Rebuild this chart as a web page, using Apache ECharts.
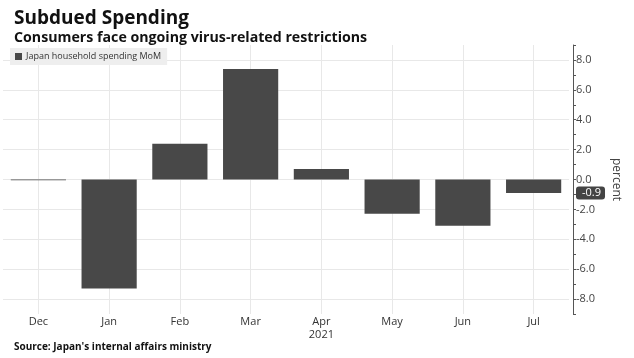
<!DOCTYPE html>
<html><head><meta charset="utf-8">
<script src="https://cdn.jsdelivr.net/npm/echarts@6/dist/echarts.min.js"></script>
<style>html,body{margin:0;padding:0;background:#fff}#c{width:634px;height:358px}</style>
</head><body><div id="c"></div>
<script>
const categories = ['Dec','Jan','Feb','Mar','Apr','May','Jun','Jul'];
const spending = [-0.05, -7.3, 2.4, 7.4, 0.7, -2.3, -3.1, -0.9];
const yearLabel = '2021';
const latestValue = -0.9;
const seriesName = 'Japan household spending MoM';
const gridValues = [-8, -6, -4, -2, 0, 2, 4, 6, 8];

const chart = echarts.init(document.getElementById('c'));
const F = '"Open Sans", "DejaVu Sans", sans-serif';
chart.setOption({
  animation: false,
  backgroundColor: '#fff',
  title: [
    {text: 'Subdued Spending', left: 9, top: 4, textStyle: {fontFamily: F, fontSize: 19, fontWeight: 'bold', color: '#111'}},
    {text: 'Consumers face ongoing virus-related restrictions', left: 9, top: 26, textStyle: {fontFamily: F, fontSize: 14.2, fontWeight: 'bold', color: '#111'}},
    {text: "Source: Japan's internal affairs ministry", left: 9, top: 337, textStyle: {fontFamily: F, fontSize: 10, fontWeight: 'bold', color: '#111'}}
  ],
  legend: {
    left: 10, top: 48, padding: [4, 6, 4, 5],
    backgroundColor: '#eeeeee',
    itemWidth: 7, itemHeight: 7, itemGap: 4,
    icon: 'rect',
    data: [seriesName],
    textStyle: {fontFamily: F, fontSize: 9, color: '#333', padding: [0,0,0,-1]}
  },
  grid: {left: 3, right: 65, top: 45, bottom: 44},
  xAxis: {
    type: 'category', data: categories,
    axisLine: {show: false}, axisTick: {show: false},
    splitLine: {show: true, alignWithLabel: true, lineStyle: {color: '#e8e8e8', width: 1}},
    axisLabel: {fontFamily: F, fontSize: 11, color: '#333', margin: 1, lineHeight: 13,
      formatter: v => v === 'Apr' ? v + '\n' + yearLabel : v}
  },
  yAxis: {
    type: 'value', position: 'right', min: -9, max: 9, interval: 1, offset: 4,
    axisLine: {show: true, onZero: false, lineStyle: {color: '#555'}},
    axisTick: {show: true, length: 3, lineStyle: {color: '#555'}},
    splitLine: {show: false},
    axisLabel: {fontFamily: F, fontSize: 11, color: '#444', margin: 3, showMinLabel: true, showMaxLabel: true,
      formatter: v => gridValues.includes(v) ? v.toFixed(1) : ''},
    name: 'percent', nameLocation: 'middle', nameRotate: -90, nameGap: 37,
    nameTextStyle: {fontFamily: F, fontSize: 12, color: '#444'},
    axisPointer: {
      show: true, value: latestValue, status: 'show', triggerTooltip: false,
      lineStyle: {opacity: 0},
      label: {show: true, backgroundColor: '#444', color: '#fff', fontFamily: F, fontSize: 11,
        padding: [1, 4, 1, 6], margin: 3, formatter: p => Number(p.value).toFixed(1)}
    }
  },
  series: [{
    name: seriesName, type: 'bar', data: spending,
    barWidth: '78%',
    itemStyle: {color: '#484848'},
    markLine: {silent: true, symbol: 'none', data: gridValues.map(v => ({yAxis: v})), label: {show: false},
      lineStyle: {color: '#e8e8e8', type: 'solid', width: 1}, z: 0}
  }]
});
</script></body></html>
